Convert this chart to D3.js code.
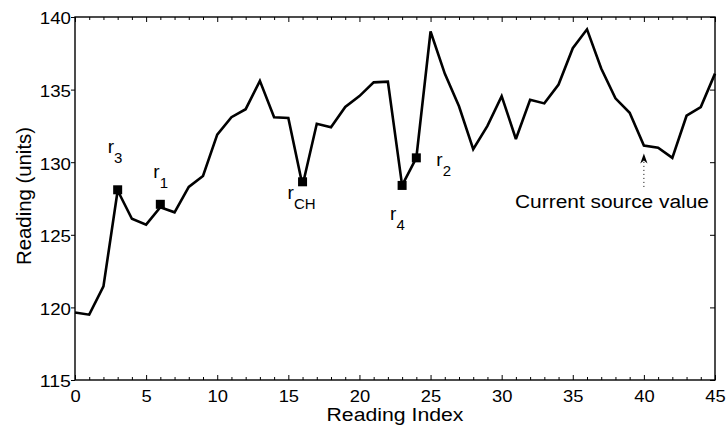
<!DOCTYPE html>
<html><head><meta charset="utf-8">
<script src="https://cdn.jsdelivr.net/npm/d3@7"></script>
<style>
html,body{margin:0;padding:0;background:#fff;}
text{font-family:"Liberation Sans",Arial,Helvetica,sans-serif;fill:#000;}
</style></head>
<body>
<svg id="chart" width="726" height="432"></svg>
<script>
// ---- data ----
const readingIndex = d3.range(0, 46);
const readingValues = [
  119.65, 119.5, 121.45, 128.05, 126.1, 125.7, 126.9, 126.55, 128.3, 129.05,
  131.9, 133.1, 133.65, 135.6, 133.1, 133.05, 128.4, 132.65, 132.4, 133.8,
  134.55, 135.5, 135.55, 128.4, 130.3, 139.0, 136.1, 133.85, 130.9, 132.5,
  134.55, 131.6, 134.3, 134.05, 135.35, 137.85, 139.15, 136.45, 134.4, 133.4,
  131.15, 131.0, 130.3, 133.2, 133.8, 136.1
];
const markerIndex = [3, 6, 16, 23, 24];
const markerValues = [128.1, 127.1, 128.65, 128.4, 130.3];
const markerNames = ["3", "1", "CH", "4", "2"];
const xTicks = [0, 5, 10, 15, 20, 25, 30, 35, 40, 45];
const yTicks = [115, 120, 125, 130, 135, 140];
const currentIndex = 40;
const currentArrow = [128.3, 130.6]; // dotted start, arrow tip
const currentLabel = "Current source value";
const xLabel = "Reading Index";
const yLabel = "Reading (units)";

// ---- layout ----
const L = 75, R = 715, T = 17, B = 380;
const svg = d3.select("#chart");
const x = d3.scaleLinear().domain([0, 45]).range([L, R]);
const y = d3.scaleLinear().domain([115, 140]).range([B, T]);

const minor = d3.range(0, 46).filter(v => v % 5 !== 0);

function fitTicks(g) {
  g.selectAll(".domain").remove();
  g.selectAll("line").attr("stroke", "#000").attr("stroke-width", 1);
}

// bottom axis
const gB = svg.append("g").attr("transform", `translate(0,${B})`)
  .call(d3.axisBottom(x).tickValues(xTicks).tickSize(-5).tickSizeOuter(0).tickPadding(10.6).tickFormat(d3.format("d")));
fitTicks(gB);
gB.selectAll("text").attr("font-size", 16).style("font-family", '"Liberation Sans",Arial,sans-serif')
  .attr("textLength", d => String(d).length * 10.2).attr("lengthAdjust", "spacingAndGlyphs");
svg.append("g").attr("transform", `translate(0,${B})`)
  .call(d3.axisBottom(x).tickValues(minor).tickSize(-3).tickSizeOuter(0).tickFormat(""))
  .call(fitTicks);
// top axis
svg.append("g").attr("transform", `translate(0,${T})`)
  .call(d3.axisTop(x).tickValues(xTicks).tickSize(-5).tickSizeOuter(0).tickFormat(""))
  .call(fitTicks);
svg.append("g").attr("transform", `translate(0,${T})`)
  .call(d3.axisTop(x).tickValues(minor).tickSize(-3).tickSizeOuter(0).tickFormat(""))
  .call(fitTicks);
// left axis
const gL = svg.append("g").attr("transform", `translate(${L},0)`)
  .call(d3.axisLeft(y).tickValues(yTicks).tickSize(4).tickSizeOuter(0).tickPadding(0).tickFormat(d3.format("d")));
fitTicks(gL);
gL.selectAll("text").attr("font-size", 16).attr("dy", "0.43em").style("font-family", '"Liberation Sans",Arial,sans-serif')
  .attr("textLength", d => String(d).length * 10.4).attr("lengthAdjust", "spacingAndGlyphs");
// right axis
svg.append("g").attr("transform", `translate(${R},0)`)
  .call(d3.axisRight(y).tickValues(yTicks).tickSize(-5).tickSizeOuter(0).tickFormat(""))
  .call(fitTicks);

// box
svg.append("rect").attr("x", L).attr("y", T).attr("width", R - L).attr("height", B - T)
  .attr("fill", "none").attr("stroke", "#000").attr("stroke-width", 1.4);

// axis labels
svg.append("text").attr("x", (L + R) / 2).attr("y", 421).attr("text-anchor", "middle")
  .attr("font-size", 18).attr("textLength", 137).attr("lengthAdjust", "spacingAndGlyphs").text(xLabel);
svg.append("text").attr("transform", `translate(31,196) rotate(-90)`).attr("text-anchor", "middle")
  .attr("font-size", 20).attr("textLength", 138).attr("lengthAdjust", "spacingAndGlyphs").text(yLabel);

// data line
const line = d3.line().x((d, i) => x(readingIndex[i])).y(d => y(d));
svg.append("path").datum(readingValues).attr("d", line)
  .attr("fill", "none").attr("stroke", "#000").attr("stroke-width", 2.6)
  .attr("stroke-linejoin", "miter").attr("stroke-miterlimit", 3);

// markers
svg.append("g").selectAll("rect").data(markerIndex).join("rect")
  .attr("x", (d) => x(d) - 4.5).attr("y", (d, i) => y(markerValues[i]) - 4.5)
  .attr("width", 9).attr("height", 9).attr("fill", "#000");

// marker labels (offsets in pixels relative to marker)
const labelOffsets = [[-10, -37], [-7, -26], [-15, 17], [-12, 35], [20, 8]];
markerIndex.forEach((d, i) => {
  const px = x(d) + labelOffsets[i][0], py = y(markerValues[i]) + labelOffsets[i][1];
  const t = svg.append("text").attr("x", px).attr("y", py);
  t.append("tspan").attr("font-size", 19).text("r");
  t.append("tspan").attr("font-size", 15).attr("dy", 10).text(markerNames[i]);
});

// current source arrow
svg.append("line").attr("x1", x(currentIndex)).attr("x2", x(currentIndex))
  .attr("y1", y(currentArrow[0])).attr("y2", y(currentArrow[1]) + 8)
  .attr("stroke", "#000").attr("stroke-width", 1).attr("stroke-dasharray", "1,3");
const tipX = x(currentIndex), tipY = y(currentArrow[1]);
svg.append("path")
  .attr("d", `M${tipX},${tipY} L${tipX + 3.6},${tipY + 10} L${tipX},${tipY + 7} L${tipX - 3.6},${tipY + 10} Z`)
  .attr("fill", "#000");
svg.append("text").attr("x", 515).attr("y", 208).attr("font-size", 18)
  .attr("textLength", 194).attr("lengthAdjust", "spacingAndGlyphs").text(currentLabel);
</script>
</body></html>
